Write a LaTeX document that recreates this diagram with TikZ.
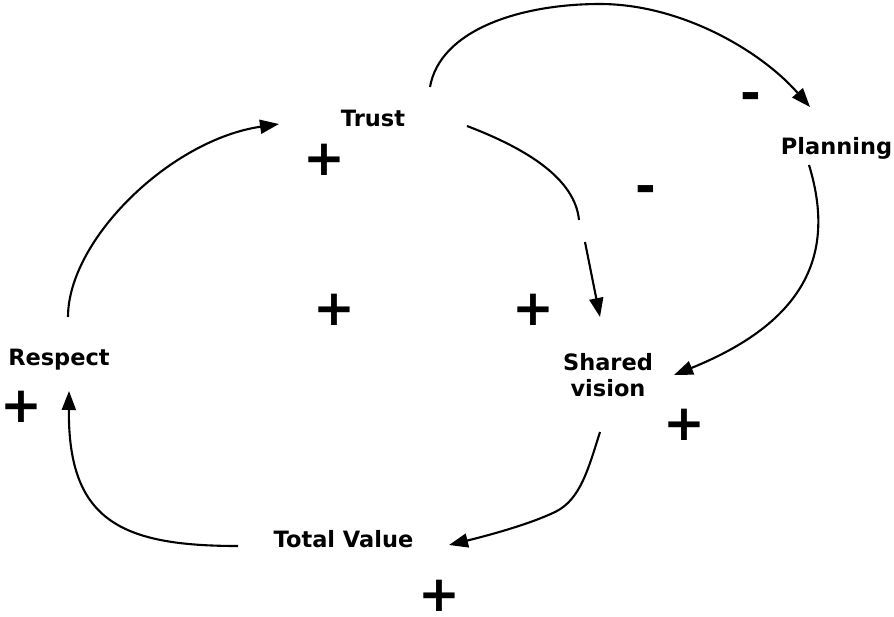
\documentclass[tikz,border=0pt]{standalone}
\usepackage{fontspec}
\setmainfont{DejaVu Sans}
\usetikzlibrary{arrows.meta}
\tikzset{
  lbl/.style={inner sep=0pt, anchor=base, font=\fontsize{22.5}{26}\selectfont\bfseries},
  sign/.style={inner sep=0pt, anchor=center, font=\fontsize{50}{50}\selectfont\bfseries},
  conn/.style={line width=2.1pt, line join=round, -{Triangle[length=19pt,width=14pt]}},
  plain/.style={line width=2.1pt, line join=round}
}
\begin{document}
\begin{tikzpicture}[x=1pt,y=-1pt]
\useasboundingbox (0,0) rectangle (894,616);
% variable labels
\node[lbl] (trust) at (373,126) {Trust};
\node[lbl] (plan) at (836.5,154) {Planning};
\node[lbl] (resp) at (59,365) {Respect};
\node[lbl] (total) at (343.5,547) {Total Value};
\node[inner sep=0pt, anchor=center, align=center, font=\fontsize{22.5}{26}\selectfont\bfseries] (sv) at (608,375.5) {Shared\\vision};
% polarity signs
\node[sign] (p1) at (324,160) {+};
\node[sign] (p2) at (334,310) {+};
\node[sign] (p3) at (533,310) {+};
\node[sign] (p4) at (21,407) {+};
\node[sign] (p5) at (684,425) {+};
\node[sign] (p6) at (439,595.5) {+};
\node[sign] (m1) at (751,102) {-};
\node[sign] (m2) at (646,195) {-};
% connector end points
\coordinate (resp-n) at (68,317);
\coordinate (trust-w) at (279,124);
\coordinate (trust-ne) at (430,87);
\coordinate (plan-n) at (810,107);
\coordinate (trust-e) at (467,126);
\coordinate (gap-a) at (579,220);
\coordinate (gap-b) at (585,242);
\coordinate (sv-n) at (600,317);
\coordinate (plan-s) at (809,165);
\coordinate (sv-e) at (674,375);
\coordinate (sv-s) at (600,432);
\coordinate (total-e) at (449,545);
\coordinate (total-w) at (238,546);
\coordinate (resp-s) at (69,391);
% connectors
\draw[conn] (resp-n) .. controls (68,240) and (170,140) .. (trust-w);
\draw[conn] (trust-ne) .. controls (440,30) and (520,4) .. (600,4)
  .. controls (680,4) and (760,50) .. (plan-n);
\draw[conn] (trust-e) .. controls (530,150) and (575,180) .. (gap-a)
  (gap-b) -- (sv-n);
\draw[conn] (plan-s) .. controls (835,250) and (810,320) .. (sv-e);
\draw[conn] (sv-s) .. controls (588,470) and (580,500) .. (555,512)
  .. controls (530,524) and (490,535) .. (total-e);
\draw[conn] (total-w) .. controls (120,546) and (68,520) .. (resp-s);
\end{tikzpicture}
\end{document}
